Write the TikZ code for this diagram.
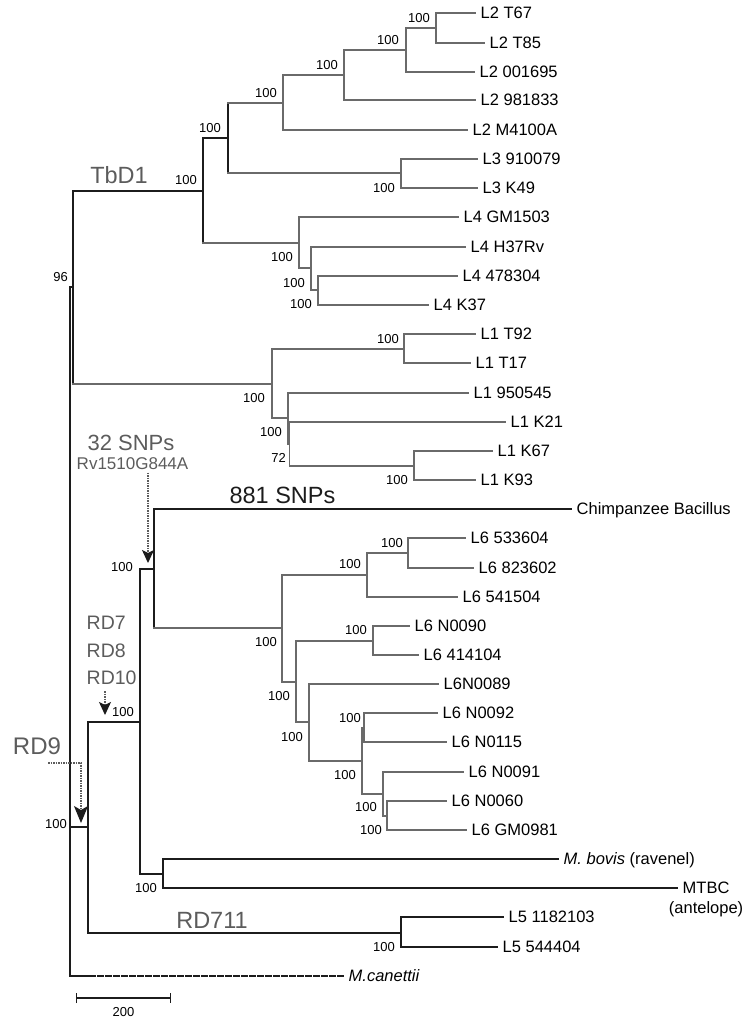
\documentclass[tikz,border=0pt]{standalone}
\usepackage{fontspec}
\setmainfont{Liberation Sans}
\usetikzlibrary{arrows.meta,positioning}
\definecolor{treegray}{HTML}{6A6A6A}
\definecolor{labgray}{HTML}{5C5C5C}
\definecolor{treeblack}{HTML}{1C1C1C}
\tikzset{
  br/.style={draw=treeblack, line width=1.6pt, line cap=rect},
  gbr/.style={draw=treegray, line width=1.6pt, line cap=rect},
  leaf/.style={anchor=west, inner xsep=5.5pt, inner ysep=0pt, text height=11.8pt, text depth=0pt, font=\fontsize{16.5}{19}\selectfont},
  boot/.style={anchor=east, inner sep=0pt, font=\fontsize{13}{15}\selectfont},
  lab/.style={inner sep=0pt, text depth=0pt, text=labgray},
  pointer/.style={draw=labgray, line width=1.1pt, dash pattern=on 1.5pt off 1pt,
    -{Stealth[length=13pt,width=12pt,inset=3pt,color=treeblack]}},
}
\begin{document}
\begin{tikzpicture}[x=1pt,y=-1pt]
    \useasboundingbox (0,0) rectangle (750,1024);
    %% inner nodes of the tree
    \foreach \n/\x/\y in {root/70/631, n96/73/287, nTb/203/191, nL23/228/138,
        nL2/283/103, nL2b/344/75, nL2c/406/50, nL2d/436/28, nL3/401/173,
        nL4/299/243, nL4b/311/268, nL4c/318/290, nL1/272/384, nL1b/404/349,
        nL1c/288/418, nL1d/289.5/444, nL1e/414/466, nRD9/88/827, nRD7/140/722,
        nSNP/154/569, nBov/163/874, nL5/401/933, nL6/282/628, nL6b/367/575,
        nL6c/408/553, nL6d/296/682, nL6e/373/641, nL6f/309/722, nL6g/362/761,
        nL6h/364/728, nL6i/383/794, nL6j/387/816}
        \coordinate (\n) at (\x,\y);
    %% leaves
    \foreach \n/\x/\y/\t in {t67/475/13/L2 T67, t85/484/43/L2 T85,
        b1695/474/72/L2 001695, b981833/475/100/L2 981833, m4100a/467/130/L2 M4100A,
        b910079/477/159/L3 910079, k49/477/188/L3 K49, gm1503/458/217/L4 GM1503,
        h37rv/465/247/L4 H37Rv, b478304/457/276/L4 478304, k37/428/305/L4 K37,
        t92/475/334/L1 T92, t17/470/363/L1 T17, b950545/468/393/L1 950545,
        k21/505/422/L1 K21, k67/492/451/L1 K67, k93/475/480/L1 K93,
        chimp/571/509/Chimpanzee Bacillus, c533604/465/538/L6 533604,
        c823602/473/568/L6 823602, c541504/457/597/L6 541504, n0090/409/626/L6 N0090,
        c414104/418/655/L6 414104, n0089/438/684/L6N0089, n0092/437/713/L6 N0092,
        n0115/446/742/L6 N0115, n0091/463/772/L6 N0091, n0060/446/801/L6 N0060,
        gm0981/466/830/L6 GM0981, mtbc/677/888/MTBC,
        l5a/503/917/L5 1182103, l5b/497/947/L5 544404}
        \node[leaf] (\n) at (\x,\y) {\t};
    \node[leaf] (bovis) at (558,859) {\textit{M. bovis} (ravenel)};
    \node[leaf, below=7pt of mtbc] (antelope) {(antelope)};
    \node[leaf] (can) at (343,976) {\textit{M.canettii}};
    %% vertical bars
    \foreach \p/\a/\b in {root/n96/can, n96/nTb/nL1, nTb/nL23/nL4, nL23/nL2/nL3,
        nRD9/nRD7/nL5, nRD7/nSNP/nBov, nSNP/chimp/nL6, nBov/bovis/mtbc, nL5/l5a/l5b}
        \draw[br] (\p |- \a) -- (\p |- \b);
    \foreach \p/\a/\b in {nL2/nL2b/m4100a, nL2b/nL2c/b981833, nL2c/nL2d/b1695,
        nL2d/t67/t85, nL3/b910079/k49, nL4/gm1503/nL4b, nL4b/h37rv/nL4c,
        nL4c/b478304/k37, nL1/nL1b/nL1c, nL1b/t92/t17, nL1c/b950545/nL1d,
        nL1d/k21/nL1e, nL1e/k67/k93, nL6/nL6b/nL6d, nL6b/nL6c/c541504,
        nL6c/c533604/c823602, nL6d/nL6e/nL6f, nL6e/n0090/c414104, nL6f/n0089/nL6g,
        nL6g/nL6h/nL6i, nL6h/n0092/n0115, nL6i/n0091/nL6j, nL6j/n0060/gm0981}
        \draw[gbr] (\p |- \a) -- (\p |- \b);
    %% branches
    \foreach \p/\c in {root/n96, root/nRD9, n96/nTb, nTb/nL23, nRD9/nRD7, nRD9/nL5,
        nRD7/nSNP, nRD7/nBov, nSNP/chimp, nBov/bovis, nBov/mtbc, nL5/l5a, nL5/l5b}
        \draw[br] (\p |- \c) -- (\c);
    \foreach \p/\c in {n96/nL1, nTb/nL4, nL23/nL2, nL23/nL3, nL2/nL2b, nL2/m4100a,
        nL2b/nL2c, nL2b/b981833, nL2c/nL2d, nL2c/b1695, nL2d/t67, nL2d/t85,
        nL3/b910079, nL3/k49, nL4/gm1503, nL4/nL4b, nL4b/h37rv, nL4b/nL4c,
        nL4c/b478304, nL4c/k37, nL1/nL1b, nL1/nL1c, nL1b/t92, nL1b/t17,
        nL1c/b950545, nL1c/nL1d, nL1d/k21, nL1d/nL1e, nL1e/k67, nL1e/k93,
        nSNP/nL6, nL6/nL6b, nL6/nL6d, nL6b/nL6c, nL6b/c541504, nL6c/c533604,
        nL6c/c823602, nL6d/nL6e, nL6d/nL6f, nL6e/n0090, nL6e/c414104, nL6f/n0089,
        nL6f/nL6g, nL6g/nL6h, nL6g/nL6i, nL6h/n0092, nL6h/n0115, nL6i/n0091,
        nL6i/nL6j, nL6j/n0060, nL6j/gm0981}
        \draw[gbr] (\p |- \c) -- (\c);
    %% outgroup
    \coordinate (canbreak) at (90,976);
    \draw[br] (root |- can) -- (canbreak);
    \draw[br, dash pattern=on 5pt off 3pt] (canbreak) -- (can);
    %% bootstrap values
    \foreach \x/\y/\t [count=\i] in {430/18/100, 399/40/100, 338/65/100, 277/93/100,
        221/128/100, 197/180/100, 395/188/100, 293/257/100, 305/283/100, 312/304/100,
        68/277/96, 265/398/100, 399/339/100, 282/432/100, 286/458/72, 408/480/100,
        133/567/100, 277/642/100, 361/564/100, 403/543/100, 290/696/100, 367/630/100,
        303/737/100, 361/718/100, 356/775/100, 377/807/100, 382/830/100, 134/712/100,
        157/888/100, 67/824/100, 395/947/100}
        \node[boot] (bs\i) at (\x,\y) {\t};
    %% events on the branches
    \node[lab, font=\fontsize{23.5}{26}\selectfont] (tbd1) at (119,175) {TbD1};
    \node[lab, font=\fontsize{22}{24}\selectfont] (snp32) at (131,443) {32 SNPs};
    \node[lab, font=\fontsize{17}{20}\selectfont] (rv) at (132.5,463.5) {Rv1510G844A};
    \node[lab, text=treeblack, font=\fontsize{23.5}{26}\selectfont] (snp881) at (282.5,495) {881 SNPs};
    \node[lab, anchor=west, font=\fontsize{19.5}{22}\selectfont] (rd7lab) at (86.5,623) {RD7};
    \node[lab, anchor=west, font=\fontsize{19.5}{22}\selectfont] (rd8lab) at (86.5,651) {RD8};
    \node[lab, anchor=west, font=\fontsize{19.5}{22}\selectfont] (rd10lab) at (86.5,678) {RD10};
    \node[lab, font=\fontsize{24}{26}\selectfont] (rd9lab) at (37,746) {RD9};
    \node[lab, font=\fontsize{23.5}{26}\selectfont] (rd711) at (212,920) {RD711};
    %% pointers
    \coordinate (snptip) at (148,563);
    \coordinate (rd10tip) at (105,715);
    \coordinate (rd9from) at (48,763);
    \coordinate (rd9tip) at (81,823);
    \draw[pointer, shorten <=3pt] (rv.south -| snptip) -- (snptip);
    \draw[pointer, shorten <=6pt] (rd10lab.south -| rd10tip) -- (rd10tip);
    \draw[pointer, -{Stealth[length=17pt,width=14pt,inset=4pt,color=treeblack]}] (rd9from) -| (rd9tip);
    %% scale bar
    \coordinate (sbl) at (76,998);
    \coordinate (sbr) at (171,998);
    \draw[line width=1.2pt, treeblack, {Bar[width=10pt]}-{Bar[width=10pt]}] (sbl) -- (sbr);
    \node[boot, anchor=center] (scale200) at (123.5,1012) {200};
\end{tikzpicture}
\end{document}
